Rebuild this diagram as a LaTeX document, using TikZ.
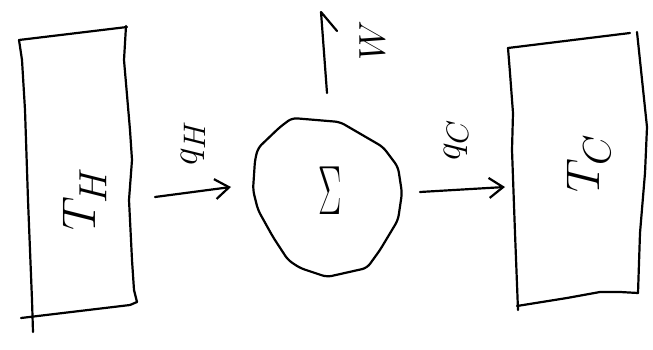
\documentclass[tikz,border=0pt]{standalone}
\usetikzlibrary{arrows.meta}
\tikzset{
  ink/.style={line width=2.2pt, line cap=round, line join=round},
  flow/.style={ink, -{Straight Barb[length=14pt,width=20pt]}},
  sidelabel/.style={inner sep=0pt, font=\Huge, rotate=90},
}
\begin{document}
\begin{tikzpicture}[x=1pt,y=-1pt]
\useasboundingbox (0,0) rectangle (653,350);

% hot reservoir
\draw[ink] (19,40) -- (127,27);
\draw[ink] (19,40) -- (22,60) -- (25,110) -- (28,200) -- (32,300) -- (33,332);
\draw[ink] (21,318) -- (130,305) -- (137,302);
\draw[ink] (126,26) -- (124,60) -- (130,130) -- (132,160) -- (129,200)
           -- (132,260) -- (134,290) -- (137,302);
\node[sidelabel, scale=1.9] (TH) at (85,199) {$T_H$};

% cold reservoir
\draw[ink] (508,48) -- (630,33);
\draw[ink] (637,32) -- (647,127) -- (645,173) -- (640,233) -- (638,293);
\draw[ink] (517,306) -- (567,298) -- (600,292) -- (620,292) -- (638,293);
\draw[ink] (508,48) -- (510,73) -- (513,113) -- (512,150) -- (515,233) -- (518,310);
\node[sidelabel, scale=1.9] (TC) at (589,163) {$T_C$};

% the system
\draw[ink, rounded corners=5pt] (280,127) -- (292,118) -- (340,122) -- (383,147)
  -- (398,167) -- (402,193) -- (398,220) -- (380,250) -- (367,268) -- (327,277)
  -- (300,268) -- (288,260) -- (273,237) -- (258,210) -- (253,190) -- (255,160)
  -- (258,148) -- cycle;
\node[inner sep=0pt, font=\Huge, xscale=1.4, yscale=2.8]
  (sys) at (330,191) {$\Sigma$};

% heat in, heat out, work out
\coordinate (qhA) at (155,197);
\coordinate (qhB) at (231,187);
\coordinate (qcA) at (420,192);
\coordinate (qcB) at (505,187);
\coordinate (wA) at (327,93);
\coordinate (wB) at (321,12);
\coordinate (wBarb) at (337,31);

\draw[flow] (qhA) -- (qhB);
\draw[flow] (qcA) -- (qcB);
\draw[ink] (wA) -- (wB) -- (wBarb);

\node[sidelabel, scale=1.5] (qH) at (193,143) {$q_H$};
\node[sidelabel, scale=1.5] (qC) at (456,140) {$q_C$};
\node[sidelabel, scale=1.5] (W) at (372,41) {$W$};
\end{tikzpicture}
\end{document}
